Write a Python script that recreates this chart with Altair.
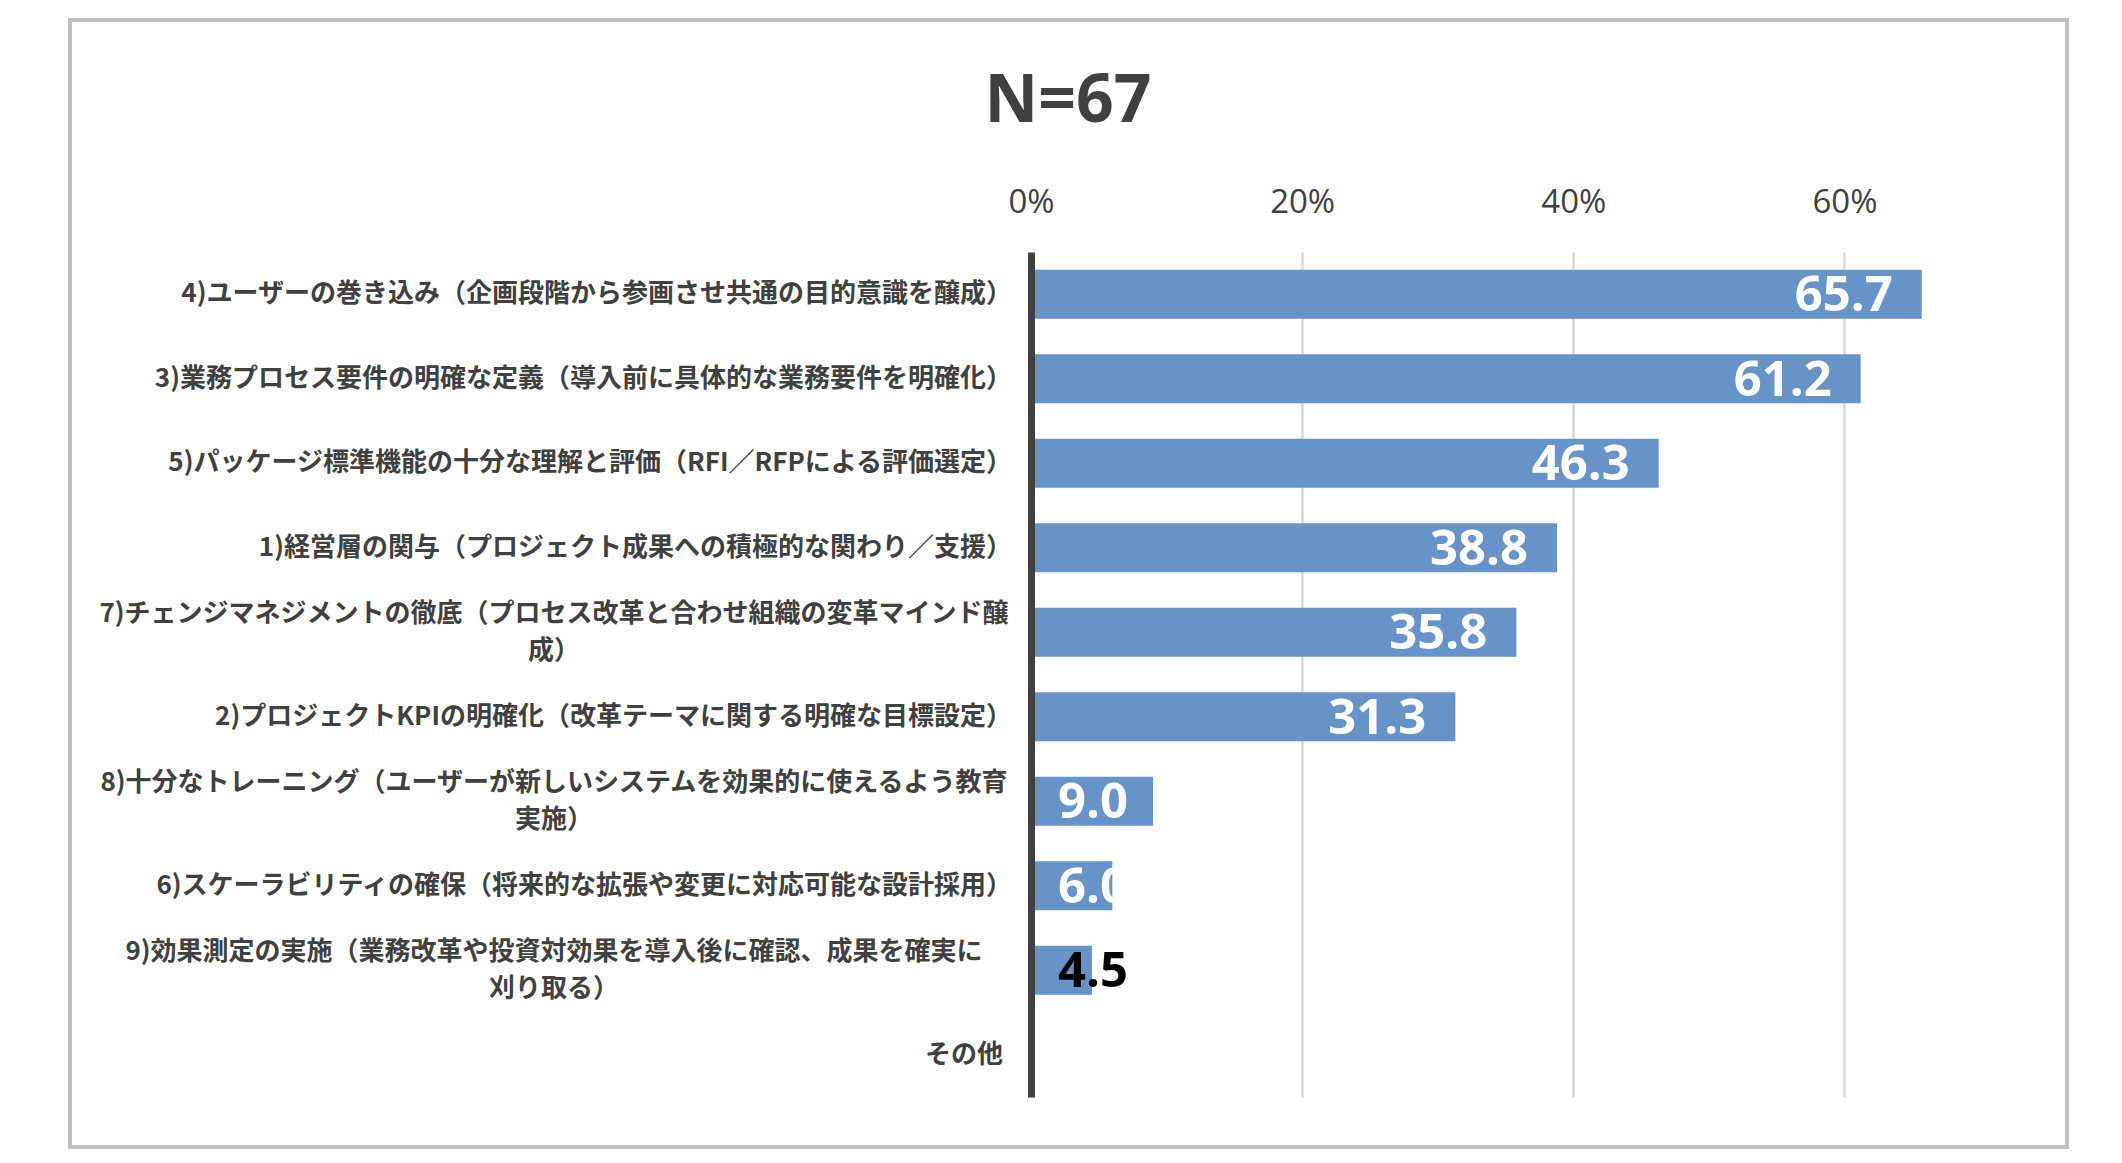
import altair as alt
import pandas as pd

title_text = "N=67"

categories = [
    "4)ユーザーの巻き込み（企画段階から参画させ共通の目的意識を醸成）",
    "3)業務プロセス要件の明確な定義（導入前に具体的な業務要件を明確化）",
    "5)パッケージ標準機能の十分な理解と評価（RFI／RFPによる評価選定）",
    "1)経営層の関与（プロジェクト成果への積極的な関わり／支援）",
    "7)チェンジマネジメントの徹底（プロセス改革と合わせ組織の変革マインド醸\n成）",
    "2)プロジェクトKPIの明確化（改革テーマに関する明確な目標設定）",
    "8)十分なトレーニング（ユーザーが新しいシステムを効果的に使えるよう教育\n実施）",
    "6)スケーラビリティの確保（将来的な拡張や変更に対応可能な設計採用）",
    "9)効果測定の実施（業務改革や投資対効果を導入後に確認、成果を確実に\n刈り取る）",
    "その他",
]
values = [65.7, 61.2, 46.3, 38.8, 35.8, 31.3, 9.0, 6.0, 4.5, None]
tick_values = [0, 20, 40, 60]
x_domain = [0, 70]

df = pd.DataFrame({"category": categories, "value": values})

TEXT = "#404040"
BAR = "#6693c8"
JP = "Noto Sans CJK JP"
LAT = "Open Sans"

y_enc = alt.Y(
    "category:N",
    sort=categories,
    scale=alt.Scale(domain=categories, paddingInner=0.42, paddingOuter=0.21),
    axis=alt.Axis(labels=False, ticks=False, domain=True, domainColor=TEXT,
                  domainWidth=7, grid=False, title=None, zindex=1),
)

x_enc = alt.X(
    "value:Q",
    scale=alt.Scale(domain=x_domain),
    axis=alt.Axis(orient="top", values=tick_values, labelExpr="datum.value + '%'",
                  grid=True, gridColor="#d9d9d9", gridWidth=2.5, domain=False,
                  ticks=False, tickSize=0, labelFont=LAT, labelFontSize=33,
                  labelColor=TEXT, labelPadding=40, labelBaseline="alphabetic",
                  labelFlush=False, title=None),
)

base = alt.Chart(df)

frame = alt.Chart(pd.DataFrame({"f": [0]})).mark_rect(
    fill="transparent", stroke="#bfbfbf", strokeWidth=4
).encode(x=alt.value(-961), x2=alt.value(1036), y=alt.value(-232), y2=alt.value(895))

bars = base.mark_bar(color=BAR).encode(x=x_enc, y=y_enc)

label_style = dict(font=JP, fontWeight="bold", fontSize=26, color=TEXT)

# single-line labels ending with a full-width bracket (glyph has right-side space)
labels_paren = base.transform_filter(
    "indexof(datum.category, '\\n') < 0 && slice(datum.category, -1) == '）'"
).mark_text(align="right", baseline="middle", **label_style).encode(
    y=y_enc, x=alt.value(-19), text="category:N")

labels_plain = base.transform_filter(
    "indexof(datum.category, '\\n') < 0 && slice(datum.category, -1) != '）'"
).mark_text(align="right", baseline="middle", **label_style).encode(
    y=y_enc, x=alt.value(-28), text="category:N")

labels_multi = base.transform_filter("indexof(datum.category, '\\n') >= 0").mark_text(
    align="center", baseline="middle", lineBreak="\n", lineHeight=37, dy=-18, **label_style
).encode(y=y_enc, x=alt.value(-477), text="category:N")

val_big = base.transform_filter("isValid(datum.value) && datum.value >= 10").mark_text(
    align="right", baseline="alphabetic", dx=-29, dy=17, font=LAT, fontWeight="bold",
    fontSize=49, color="white"
).encode(x="value:Q", y=y_enc, text=alt.Text("value:Q", format=".1f"))

val_small = base.transform_filter("isValid(datum.value) && datum.value < 10").mark_text(
    align="left", baseline="alphabetic", dy=17, font=LAT, fontWeight="bold", fontSize=49
).encode(
    x=alt.value(27), y=y_enc, text=alt.Text("value:Q", format=".1f"),
    color=alt.condition("datum.value < 5", alt.value("black"), alt.value("white")),
)

title_layer = alt.Chart(pd.DataFrame({"t": [title_text]})).mark_text(
    align="center", baseline="alphabetic", font=LAT, fontWeight="bold", fontSize=66, color=TEXT
).encode(text="t:N", x=alt.value(37), y=alt.value(-130))

chart = alt.layer(
    frame, bars, labels_paren, labels_plain, labels_multi, val_big, val_small, title_layer
).properties(
    width=949, height=845,
    padding={"left": 1023, "top": 244, "right": 110, "bottom": 62},
    autosize=alt.AutoSizeParams(type="none"),
).configure_view(strokeWidth=0)

chart.save("out.html", embed_options={"renderer": "svg", "actions": False})
